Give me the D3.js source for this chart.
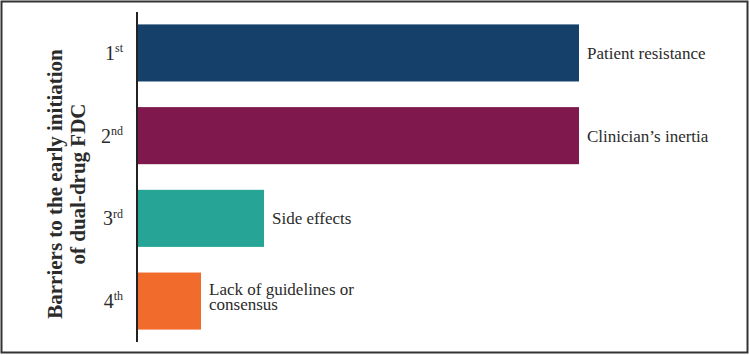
<!DOCTYPE html>
<html>
<head>
<meta charset="utf-8">
<script src="https://cdn.jsdelivr.net/npm/d3@7"></script>
<style>
  body { margin: 0; background: #fff; }
  text { font-family: "Liberation Serif", "Times New Roman", serif; fill: #2b2b2b; }
</style>
</head>
<body>
<div id="chart"></div>
<script>
// rank of each barrier (1st..4th) and its relative weight
const ranks = ['1', '2', '3', '4'];
const suffixes = ['st', 'nd', 'rd', 'th'];
const values = [7, 7, 2, 1];
const labels = [['Patient resistance'], ['Clinician\u2019s inertia'], ['Side effects'], ['Lack of guidelines or', 'consensus']];
const colors = ['#15406a', '#7e184d', '#26a596', '#f16b2c'];
const titleLines = ['Barriers to the early initiation', 'of dual-drug FDC'];

const width = 750;
const height = 355;
const margin = { top: 12, right: 170, bottom: 13, left: 138 };

const svg = d3.select('#chart')
	.append('svg')
	.attr('width', width)
	.attr('height', height);

// frame
svg.append('rect')
	.attr('x', 1.5)
	.attr('y', 1.5)
	.attr('width', width - 4)
	.attr('height', height - 4)
	.attr('fill', 'none')
	.attr('stroke', '#333')
	.attr('stroke-width', 2);

const x = d3.scaleLinear()
	.domain([0, 7])
	.range([margin.left, margin.left + 441]);

const y = d3.scaleBand()
	.domain(ranks)
	.range([margin.top, height - margin.bottom])
	.paddingInner(0.31)
	.paddingOuter(0.15);

const g = svg.append('g');

g.selectAll('rect.bar')
	.data(values)
	.enter()
	.append('rect')
	.attr('class', 'bar')
	.attr('x', x(0))
	.attr('y', (d, i) => y(ranks[i]))
	.attr('width', (d) => x(d) - x(0))
	.attr('height', y.bandwidth())
	.attr('fill', (d, i) => colors[i]);

// labels to the right of each bar
const lineH = 15.5;
g.selectAll('text.lbl')
	.data(values)
	.enter()
	.append('text')
	.attr('class', 'lbl')
	.attr('font-size', 17)
	.attr('y', (d, i) => y(ranks[i]) + y.bandwidth() / 2 - (labels[i].length - 1) * 12.5)
	.each(function (d, i) {
		const t = d3.select(this);
		labels[i].forEach((line, j) => {
			t.append('tspan')
				.attr('x', x(d) + 8)
				.attr('dy', j === 0 ? '0.35em' : lineH)
				.text(line);
		});
	});

// y axis: line only, tick labels with superscript
const axis = d3.axisLeft(y).tickSize(0).tickFormat('');
const ax = svg.append('g')
	.attr('transform', `translate(${margin.left - 1},0)`)
	.call(axis);
ax.select('.domain')
	.attr('stroke', '#222')
	.attr('stroke-width', 2)
	.attr('d', `M0,${margin.top}V${height - margin.bottom}`);

ax.selectAll('.tick text').remove();
ax.selectAll('.tick')
	.append('text')
	.attr('x', -14)
	.attr('dy', '0.35em')
	.attr('text-anchor', 'end')
	.attr('font-size', 20)
	.attr('fill', '#2b2b2b')
	.each(function (d, i) {
		const t = d3.select(this);
		t.append('tspan').text(d);
		t.append('tspan')
			.attr('font-size', 12)
			.attr('dy', '-0.65em')
			.text(suffixes[i]);
	});

// axis title
const title = svg.append('text')
	.attr('transform', `translate(55,184) rotate(-90)`)
	.attr('text-anchor', 'middle')
	.attr('font-size', 21)
	.attr('font-weight', 'bold');

titleLines.forEach((line, j) => {
	title.append('tspan')
		.attr('x', 0)
		.attr('dy', j === 0 ? '0.35em' : 23)
		.text(line);
});
</script>
</body>
</html>
